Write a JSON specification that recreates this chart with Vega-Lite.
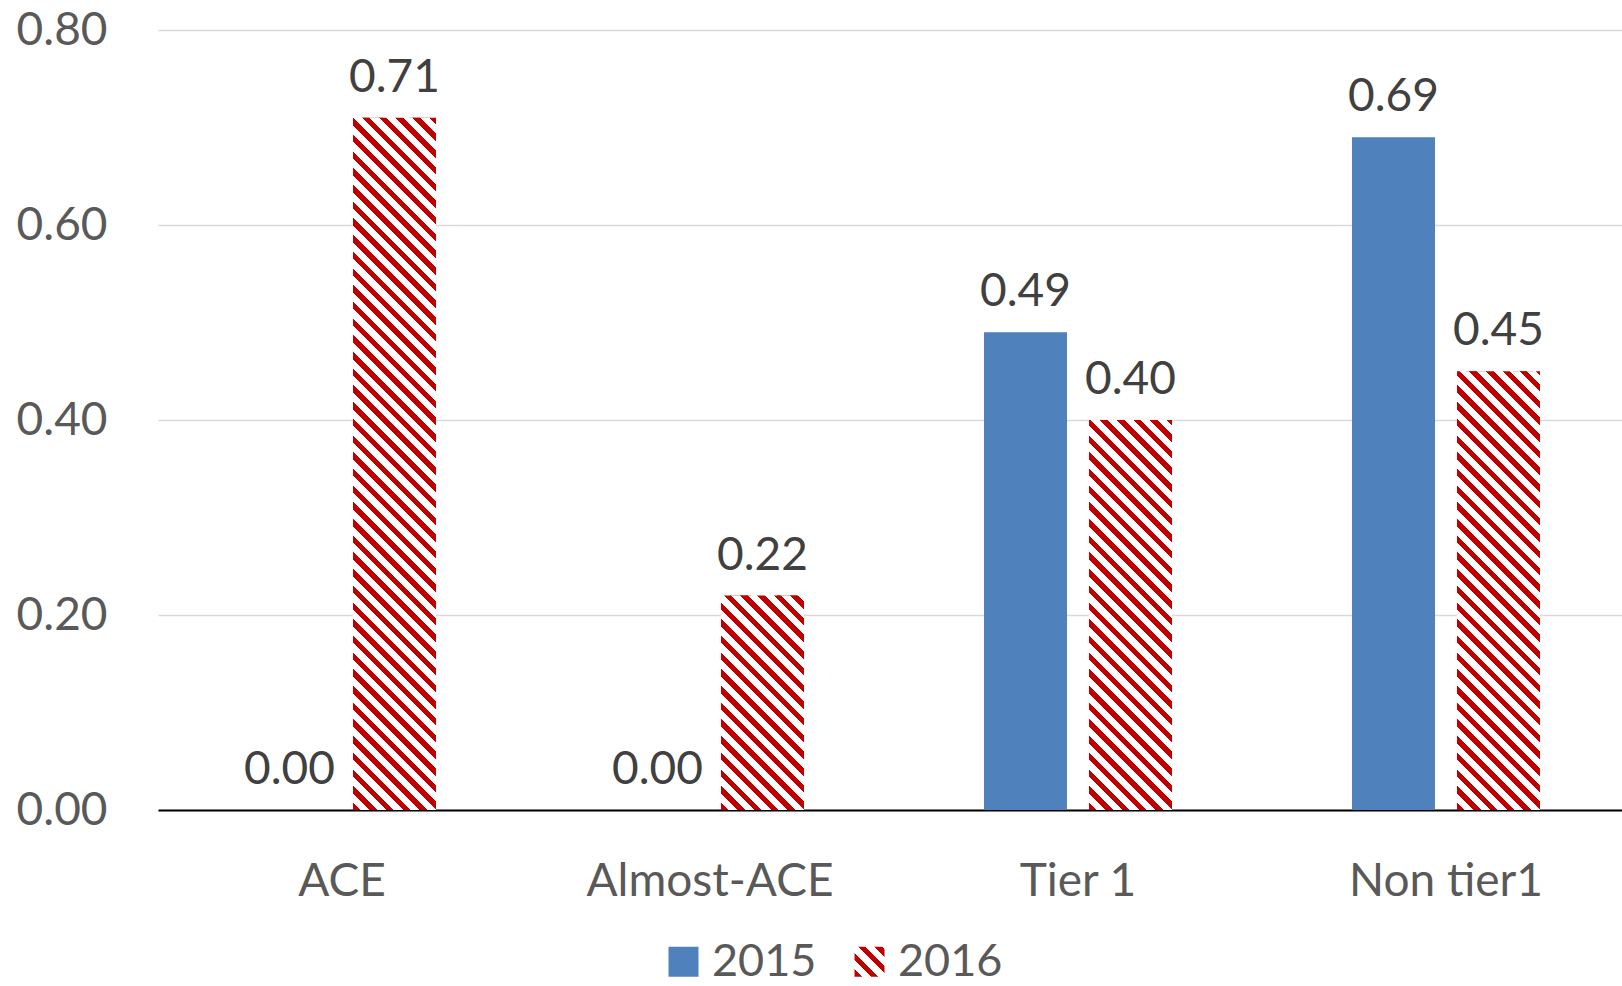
{
  "$schema": "https://vega.github.io/schema/vega-lite/v6.json",
  "width": 1464,
  "height": 780,
  "autosize": {"type": "none"},
  "padding": {"left": 158, "top": 30, "right": 0, "bottom": 176},
  "background": "white",
  "params": [
    {
      "name": "stripes",
      "value": [
        {"offset":0,"color":"#C00000"},{"offset":0.009,"color":"#C00000"},{"offset":0.009,"color":"#FFFFFF"},{"offset":0.02,"color":"#FFFFFF"},
        {"offset":0.02,"color":"#C00000"},{"offset":0.029,"color":"#C00000"},{"offset":0.029,"color":"#FFFFFF"},{"offset":0.04,"color":"#FFFFFF"},
        {"offset":0.04,"color":"#C00000"},{"offset":0.049,"color":"#C00000"},{"offset":0.049,"color":"#FFFFFF"},{"offset":0.06,"color":"#FFFFFF"},
        {"offset":0.06,"color":"#C00000"},{"offset":0.069,"color":"#C00000"},{"offset":0.069,"color":"#FFFFFF"},{"offset":0.08,"color":"#FFFFFF"},
        {"offset":0.08,"color":"#C00000"},{"offset":0.089,"color":"#C00000"},{"offset":0.089,"color":"#FFFFFF"},{"offset":0.1,"color":"#FFFFFF"},
        {"offset":0.1,"color":"#C00000"},{"offset":0.109,"color":"#C00000"},{"offset":0.109,"color":"#FFFFFF"},{"offset":0.12,"color":"#FFFFFF"},
        {"offset":0.12,"color":"#C00000"},{"offset":0.129,"color":"#C00000"},{"offset":0.129,"color":"#FFFFFF"},{"offset":0.14,"color":"#FFFFFF"},
        {"offset":0.14,"color":"#C00000"},{"offset":0.149,"color":"#C00000"},{"offset":0.149,"color":"#FFFFFF"},{"offset":0.16,"color":"#FFFFFF"},
        {"offset":0.16,"color":"#C00000"},{"offset":0.169,"color":"#C00000"},{"offset":0.169,"color":"#FFFFFF"},{"offset":0.18,"color":"#FFFFFF"},
        {"offset":0.18,"color":"#C00000"},{"offset":0.189,"color":"#C00000"},{"offset":0.189,"color":"#FFFFFF"},{"offset":0.2,"color":"#FFFFFF"},
        {"offset":0.2,"color":"#C00000"},{"offset":0.209,"color":"#C00000"},{"offset":0.209,"color":"#FFFFFF"},{"offset":0.22,"color":"#FFFFFF"},
        {"offset":0.22,"color":"#C00000"},{"offset":0.229,"color":"#C00000"},{"offset":0.229,"color":"#FFFFFF"},{"offset":0.24,"color":"#FFFFFF"},
        {"offset":0.24,"color":"#C00000"},{"offset":0.249,"color":"#C00000"},{"offset":0.249,"color":"#FFFFFF"},{"offset":0.26,"color":"#FFFFFF"},
        {"offset":0.26,"color":"#C00000"},{"offset":0.269,"color":"#C00000"},{"offset":0.269,"color":"#FFFFFF"},{"offset":0.28,"color":"#FFFFFF"},
        {"offset":0.28,"color":"#C00000"},{"offset":0.289,"color":"#C00000"},{"offset":0.289,"color":"#FFFFFF"},{"offset":0.3,"color":"#FFFFFF"},
        {"offset":0.3,"color":"#C00000"},{"offset":0.309,"color":"#C00000"},{"offset":0.309,"color":"#FFFFFF"},{"offset":0.32,"color":"#FFFFFF"},
        {"offset":0.32,"color":"#C00000"},{"offset":0.329,"color":"#C00000"},{"offset":0.329,"color":"#FFFFFF"},{"offset":0.34,"color":"#FFFFFF"},
        {"offset":0.34,"color":"#C00000"},{"offset":0.349,"color":"#C00000"},{"offset":0.349,"color":"#FFFFFF"},{"offset":0.36,"color":"#FFFFFF"},
        {"offset":0.36,"color":"#C00000"},{"offset":0.369,"color":"#C00000"},{"offset":0.369,"color":"#FFFFFF"},{"offset":0.38,"color":"#FFFFFF"},
        {"offset":0.38,"color":"#C00000"},{"offset":0.389,"color":"#C00000"},{"offset":0.389,"color":"#FFFFFF"},{"offset":0.4,"color":"#FFFFFF"},
        {"offset":0.4,"color":"#C00000"},{"offset":0.409,"color":"#C00000"},{"offset":0.409,"color":"#FFFFFF"},{"offset":0.42,"color":"#FFFFFF"},
        {"offset":0.42,"color":"#C00000"},{"offset":0.429,"color":"#C00000"},{"offset":0.429,"color":"#FFFFFF"},{"offset":0.44,"color":"#FFFFFF"},
        {"offset":0.44,"color":"#C00000"},{"offset":0.449,"color":"#C00000"},{"offset":0.449,"color":"#FFFFFF"},{"offset":0.46,"color":"#FFFFFF"},
        {"offset":0.46,"color":"#C00000"},{"offset":0.469,"color":"#C00000"},{"offset":0.469,"color":"#FFFFFF"},{"offset":0.48,"color":"#FFFFFF"},
        {"offset":0.48,"color":"#C00000"},{"offset":0.489,"color":"#C00000"},{"offset":0.489,"color":"#FFFFFF"},{"offset":0.5,"color":"#FFFFFF"},
        {"offset":0.5,"color":"#C00000"},{"offset":0.509,"color":"#C00000"},{"offset":0.509,"color":"#FFFFFF"},{"offset":0.52,"color":"#FFFFFF"},
        {"offset":0.52,"color":"#C00000"},{"offset":0.529,"color":"#C00000"},{"offset":0.529,"color":"#FFFFFF"},{"offset":0.54,"color":"#FFFFFF"},
        {"offset":0.54,"color":"#C00000"},{"offset":0.549,"color":"#C00000"},{"offset":0.549,"color":"#FFFFFF"},{"offset":0.56,"color":"#FFFFFF"},
        {"offset":0.56,"color":"#C00000"},{"offset":0.569,"color":"#C00000"},{"offset":0.569,"color":"#FFFFFF"},{"offset":0.58,"color":"#FFFFFF"},
        {"offset":0.58,"color":"#C00000"},{"offset":0.589,"color":"#C00000"},{"offset":0.589,"color":"#FFFFFF"},{"offset":0.6,"color":"#FFFFFF"},
        {"offset":0.6,"color":"#C00000"},{"offset":0.609,"color":"#C00000"},{"offset":0.609,"color":"#FFFFFF"},{"offset":0.62,"color":"#FFFFFF"},
        {"offset":0.62,"color":"#C00000"},{"offset":0.629,"color":"#C00000"},{"offset":0.629,"color":"#FFFFFF"},{"offset":0.64,"color":"#FFFFFF"},
        {"offset":0.64,"color":"#C00000"},{"offset":0.649,"color":"#C00000"},{"offset":0.649,"color":"#FFFFFF"},{"offset":0.66,"color":"#FFFFFF"},
        {"offset":0.66,"color":"#C00000"},{"offset":0.669,"color":"#C00000"},{"offset":0.669,"color":"#FFFFFF"},{"offset":0.68,"color":"#FFFFFF"},
        {"offset":0.68,"color":"#C00000"},{"offset":0.689,"color":"#C00000"},{"offset":0.689,"color":"#FFFFFF"},{"offset":0.7,"color":"#FFFFFF"},
        {"offset":0.7,"color":"#C00000"},{"offset":0.709,"color":"#C00000"},{"offset":0.709,"color":"#FFFFFF"},{"offset":0.72,"color":"#FFFFFF"},
        {"offset":0.72,"color":"#C00000"},{"offset":0.729,"color":"#C00000"},{"offset":0.729,"color":"#FFFFFF"},{"offset":0.74,"color":"#FFFFFF"},
        {"offset":0.74,"color":"#C00000"},{"offset":0.749,"color":"#C00000"},{"offset":0.749,"color":"#FFFFFF"},{"offset":0.76,"color":"#FFFFFF"},
        {"offset":0.76,"color":"#C00000"},{"offset":0.769,"color":"#C00000"},{"offset":0.769,"color":"#FFFFFF"},{"offset":0.78,"color":"#FFFFFF"},
        {"offset":0.78,"color":"#C00000"},{"offset":0.789,"color":"#C00000"},{"offset":0.789,"color":"#FFFFFF"},{"offset":0.8,"color":"#FFFFFF"},
        {"offset":0.8,"color":"#C00000"},{"offset":0.809,"color":"#C00000"},{"offset":0.809,"color":"#FFFFFF"},{"offset":0.82,"color":"#FFFFFF"},
        {"offset":0.82,"color":"#C00000"},{"offset":0.829,"color":"#C00000"},{"offset":0.829,"color":"#FFFFFF"},{"offset":0.84,"color":"#FFFFFF"},
        {"offset":0.84,"color":"#C00000"},{"offset":0.849,"color":"#C00000"},{"offset":0.849,"color":"#FFFFFF"},{"offset":0.86,"color":"#FFFFFF"},
        {"offset":0.86,"color":"#C00000"},{"offset":0.869,"color":"#C00000"},{"offset":0.869,"color":"#FFFFFF"},{"offset":0.88,"color":"#FFFFFF"},
        {"offset":0.88,"color":"#C00000"},{"offset":0.889,"color":"#C00000"},{"offset":0.889,"color":"#FFFFFF"},{"offset":0.9,"color":"#FFFFFF"},
        {"offset":0.9,"color":"#C00000"},{"offset":0.909,"color":"#C00000"},{"offset":0.909,"color":"#FFFFFF"},{"offset":0.92,"color":"#FFFFFF"},
        {"offset":0.92,"color":"#C00000"},{"offset":0.929,"color":"#C00000"},{"offset":0.929,"color":"#FFFFFF"},{"offset":0.94,"color":"#FFFFFF"},
        {"offset":0.94,"color":"#C00000"},{"offset":0.949,"color":"#C00000"},{"offset":0.949,"color":"#FFFFFF"},{"offset":0.96,"color":"#FFFFFF"},
        {"offset":0.96,"color":"#C00000"},{"offset":0.969,"color":"#C00000"},{"offset":0.969,"color":"#FFFFFF"},{"offset":0.98,"color":"#FFFFFF"},
        {"offset":0.98,"color":"#C00000"},{"offset":0.989,"color":"#C00000"},{"offset":0.989,"color":"#FFFFFF"},{"offset":1,"color":"#FFFFFF"}
      ]
    }
  ],
  "data": {
    "values": [
      {"category": "ACE", "year": "2015", "value": 0.00},
      {"category": "ACE", "year": "2016", "value": 0.71},
      {"category": "Almost-ACE", "year": "2015", "value": 0.00},
      {"category": "Almost-ACE", "year": "2016", "value": 0.22},
      {"category": "Tier 1", "year": "2015", "value": 0.49},
      {"category": "Tier 1", "year": "2016", "value": 0.40},
      {"category": "Non tier1", "year": "2015", "value": 0.69},
      {"category": "Non tier1", "year": "2016", "value": 0.45}
    ]
  },
  "config": {
    "view": {"stroke": null},
    "font": "Lato"
  },
  "encoding": {
    "x": {
      "field": "category",
      "type": "nominal",
      "sort": ["ACE", "Almost-ACE", "Tier 1", "Non tier1"],
      "scale": {"range": [0, 1472], "paddingInner": 0.489, "paddingOuter": 0.2445},
      "axis": {
        "title": null,
        "labelAngle": 0,
        "labelFont": "Lato",
        "labelFontSize": 46,
        "labelColor": "#595959",
        "labelBaseline": "alphabetic",
        "labelPadding": 85,
        "labelLimit": 0,
        "ticks": false,
        "tickSize": 0,
        "domainColor": "#000000",
        "domainWidth": 2,
        "grid": false
      }
    },
    "xOffset": {
      "field": "year",
      "type": "nominal",
      "scale": {"paddingInner": 0.2095, "paddingOuter": 0}
    },
    "y": {
      "field": "value",
      "type": "quantitative",
      "scale": {"domain": [0, 0.8], "nice": false},
      "axis": {
        "title": null,
        "values": [0, 0.2, 0.4, 0.6, 0.8],
        "format": ".2f",
        "labelFont": "Lato",
        "labelFontSize": 46,
        "labelColor": "#595959",
        "labelPadding": 51,
        "domain": false,
        "ticks": false,
        "tickSize": 0,
        "gridColor": "#D9D9D9",
        "gridWidth": 1.5
      }
    }
  },
  "layer": [
    {
      "mark": {"type": "bar"},
      "encoding": {
        "fill": {
          "field": "year",
          "type": "nominal",
          "scale": {
            "domain": ["2015", "2016"],
            "range": ["#4F81BD", {"expr": "{gradient: 'linear', x1: 0, y1: 1, x2: 13.917, y2: -12.917, stops: stripes}"}]
          },
          "legend": {
            "title": null,
            "orient": "none",
            "legendX": 503,
            "legendY": 909,
            "direction": "horizontal",
            "symbolType": "square",
            "symbolSize": 900,
            "symbolStrokeWidth": 0,
            "symbolOpacity": 1,
            "labelFont": "Lato",
            "labelFontSize": 45,
            "labelColor": "#595959",
            "labelOffset": 6,
            "columnPadding": 30,
            "padding": 0
          }
        }
      }
    },
    {
      "transform": [{"filter": "datum.year === '2016'"}],
      "mark": {
        "type": "bar",
        "fill": {"expr": "{gradient: 'linear', x1: 0, y1: 1, x2: 835 * 83 / (83 * 83 + pow(datum.value * 975, 2)), y2: 1 - 835 * datum.value * 975 / (83 * 83 + pow(datum.value * 975, 2)), stops: stripes}"}
      }
    },
    {
      "mark": {
        "type": "text",
        "baseline": "alphabetic",
        "dy": -26,
        "font": "Lato",
        "fontSize": 46,
        "fill": "#404040"
      },
      "encoding": {
        "text": {"field": "value", "type": "quantitative", "format": ".2f"}
      }
    }
  ]
}
